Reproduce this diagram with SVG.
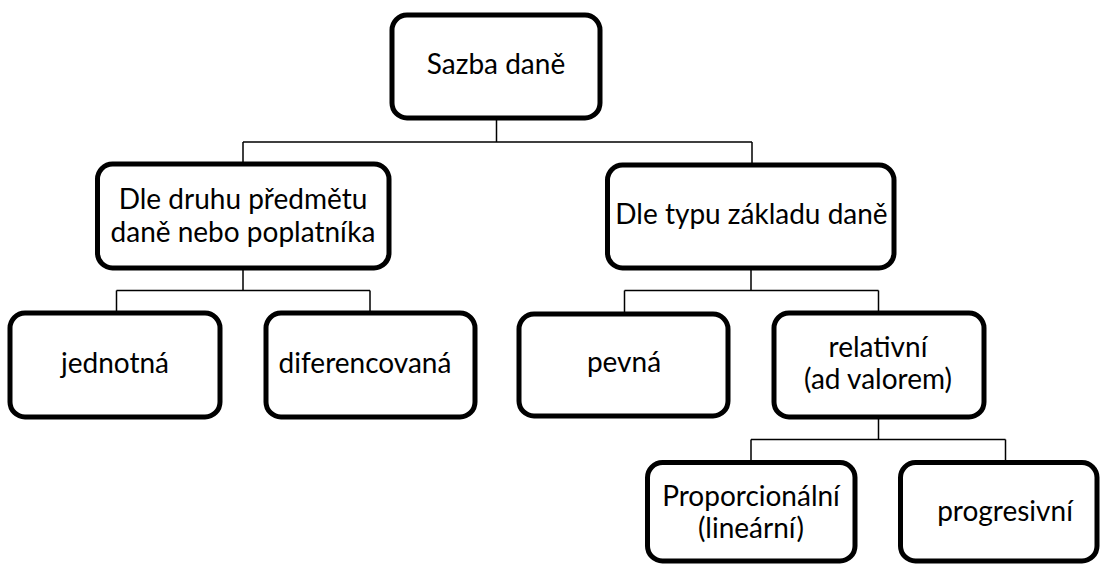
<svg xmlns="http://www.w3.org/2000/svg" width="1100" height="564" viewBox="0 0 1100 564">
<style>
.box{fill:#fff;stroke:#000;stroke-width:5}
.lbl{font-family:Lato,"Open Sans","Liberation Sans",sans-serif;font-size:28px;fill:#000;text-anchor:middle}
.con{fill:none;stroke:#000;stroke-width:1.5}
</style>
<rect width="1100" height="564" fill="#fff"/>
<g id="connectors">
<path class="con" d="M496.5 118V142M243 142H752M243 142V164M752 142V165"/>
<path class="con" d="M243 268V290.5M116.5 290.5H370M116.5 290.5V313M370 290.5V313"/>
<path class="con" d="M751 268V290.5M624.5 290.5H878.5M624.5 290.5V314M878.5 290.5V313"/>
<path class="con" d="M878.5 417V439.5M751 439.5H1005.5M751 439.5V462.5M1005.5 439.5V462.5"/>
</g>
<g id="root"><rect class="box" x="392" y="15" width="208" height="103" rx="15"/><text class="lbl" x="496" y="74">Sazba daně</text></g>
<g id="dle-druhu"><rect class="box" x="97.5" y="164" width="291.5" height="104" rx="15"/><text class="lbl" x="243" y="209">Dle druhu předmětu</text><text class="lbl" x="243" y="242">daně nebo poplatníka</text></g>
<g id="dle-typu"><rect class="box" x="607.5" y="165" width="286.5" height="103" rx="15"/><text class="lbl" x="751.5" y="224">Dle typu základu daně</text></g>
<g id="jednotna"><rect class="box" x="10" y="313" width="210" height="104" rx="15"/><text class="lbl" x="115" y="373">jednotná</text></g>
<g id="diferencovana"><rect class="box" x="266" y="313" width="209" height="104" rx="15"/><text class="lbl" x="365" y="373">diferencovaná</text></g>
<g id="pevna"><rect class="box" x="519" y="314" width="209" height="102" rx="15"/><text class="lbl" x="624" y="372">pevná</text></g>
<g id="relativni"><rect class="box" x="774" y="313" width="210" height="104" rx="15"/><text class="lbl" x="878" y="357">relativní</text><text class="lbl" x="878" y="389">(ad valorem)</text></g>
<g id="proporcionalni"><rect class="box" x="647.5" y="462.5" width="207.5" height="98.5" rx="15"/><text class="lbl" x="751" y="506">Proporcionální</text><text class="lbl" x="751" y="538">(lineární)</text></g>
<g id="progresivni"><rect class="box" x="900.5" y="462.5" width="196.5" height="98.5" rx="15"/><text class="lbl" x="1005" y="521">progresivní</text></g>
</svg>
